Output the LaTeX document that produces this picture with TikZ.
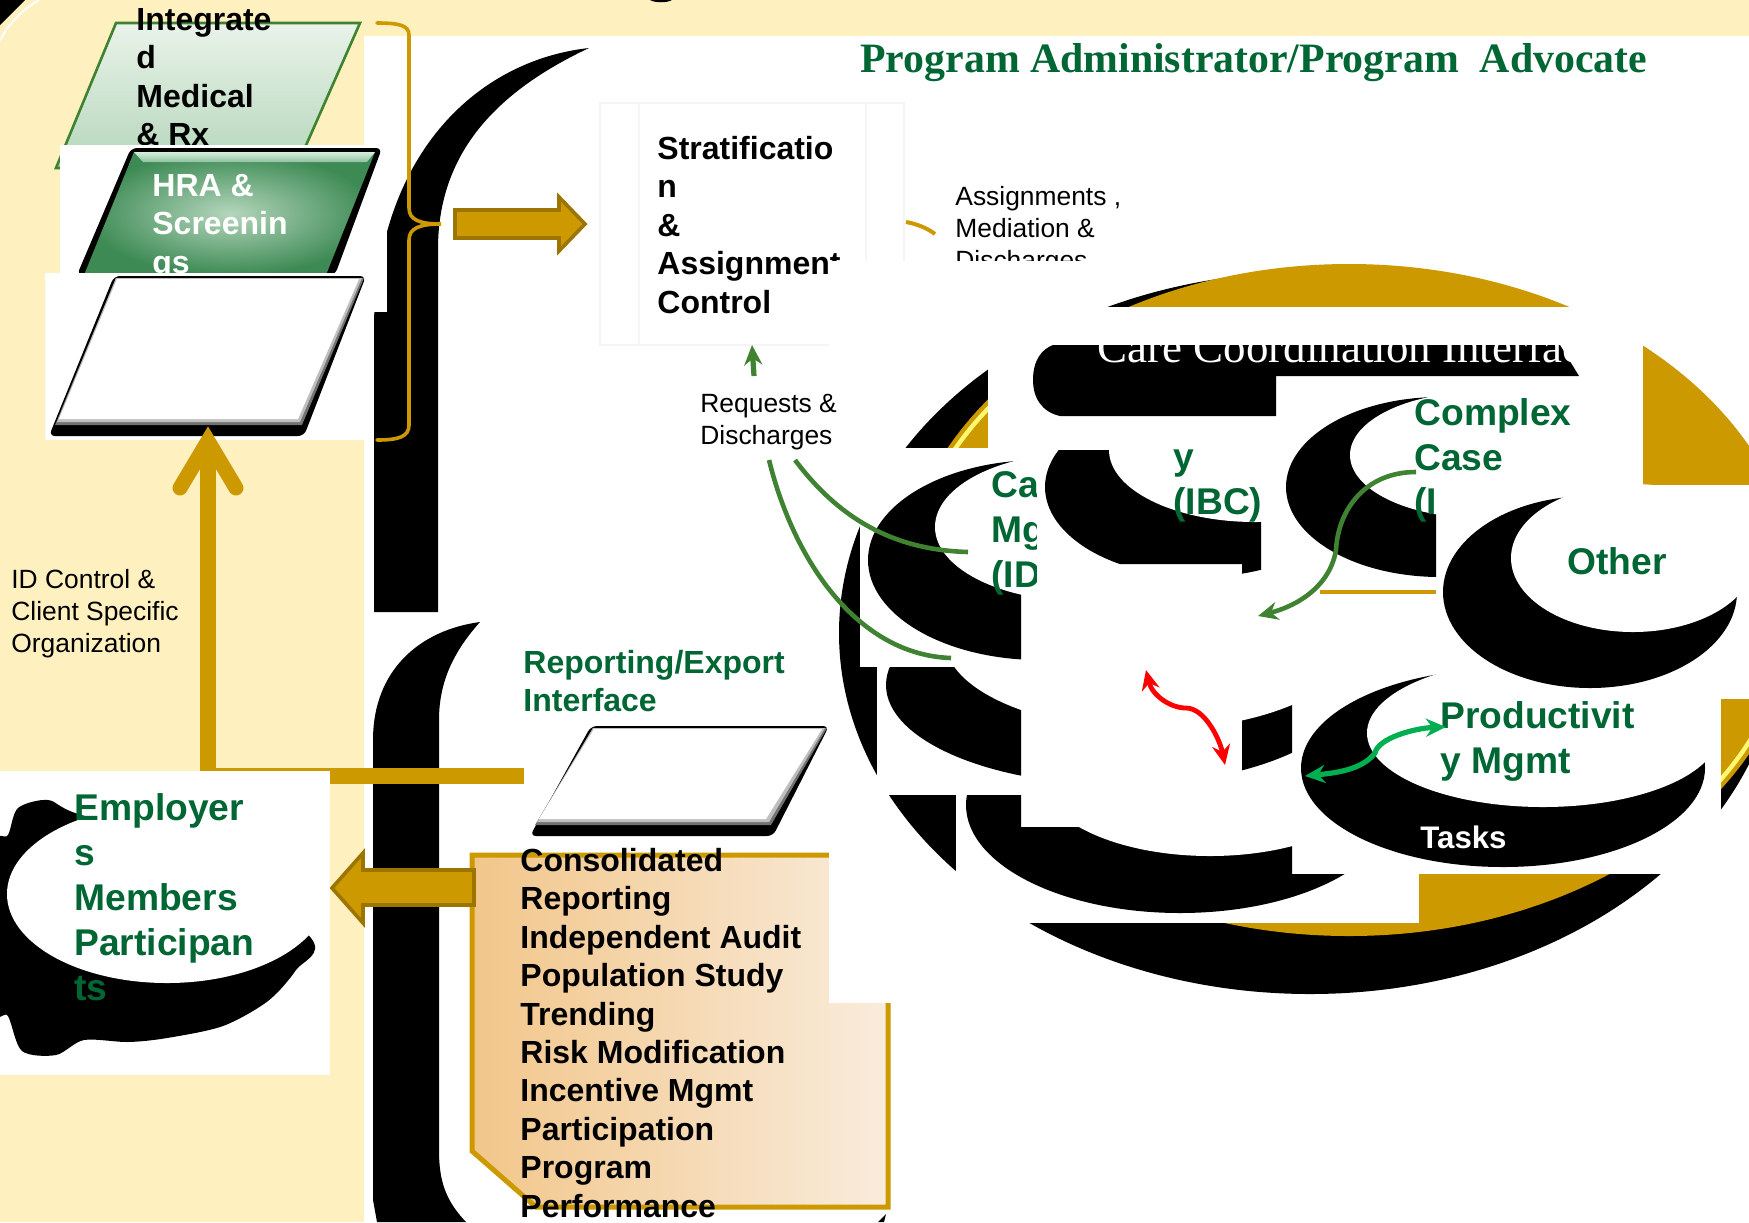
\documentclass[tikz,border=0pt]{standalone}
\usepackage{fontspec}
\setmainfont{Liberation Sans}
\newfontfamily\titlefont{Liberation Serif}
\usetikzlibrary{arrows.meta}
\definecolor{cream}{HTML}{FEF0BF}
\definecolor{gold}{HTML}{CC9900}
\definecolor{golddk}{HTML}{9C7400}
\definecolor{tgreen}{HTML}{006633}
\definecolor{lgreen}{HTML}{3F8232}
\definecolor{bgreen}{HTML}{00B050}
\newcommand{\myell}[4]{(#1,#2) ellipse [x radius=#3*0.5pt, y radius=#4*0.5pt]}
\tikzset{
  body/.style={anchor=base west,inner sep=0pt,align=left,font=\fontsize{16}{19.2}\selectfont\bfseries,text=black},
  green head/.style={anchor=base west,inner sep=0pt,align=left,font=\fontsize{18.6}{22.4}\selectfont\bfseries,text=tgreen},
  small text/.style={anchor=base west,inner sep=0pt,align=left,font=\fontsize{13.2}{15.8}\selectfont,text=black},
  serif head/.style={anchor=base west,inner sep=0pt,font=\fontsize{20.9}{25}\selectfont\titlefont\bfseries},
  gold arrow/.style={fill=gold,draw=golddk,line width=1.8pt,line join=miter},
  gold line/.style={draw=gold,line width=1.8pt,line cap=round},
  green link/.style={draw=lgreen,line width=2.3pt},
  bevel black/.style={fill=black,rounded corners=3pt},
  tip/.style={-{Stealth[length=10pt,width=9pt]}},
  twotip/.style={{Stealth[length=10pt,width=9pt]}-{Stealth[length=10pt,width=9pt]}},
}
\begin{document}
\begin{tikzpicture}[x=0.5pt,y=-0.5pt]
\useasboundingbox (0,0) rectangle (1749,1222);
\clip (0,0) rectangle (1749,1222);
% page
\fill[white] (0,0) rectangle (1749,1222);
\fill[cream] (0,0) rectangle (1749,36);
\fill[cream] (0,0) rectangle (364,1222);
\fill[black] (0,0) -- (25,0) -- (0,25) -- cycle;
\draw[white,line width=1pt] (39,0) .. controls (22,10) and (8,24) .. (0,41);
\fill[black] (650,0) .. controls (655,3) and (667,3) .. (672,0) -- cycle;
% black arches
\fill[black] (589,48) .. controls (480,60) and (380,150) .. (374,320) -- (374,612) -- (438,612) -- (438,249)
  .. controls (438,150) and (500,90) .. (589,48) -- cycle;
\fill[black] (480,622) .. controls (420,630) and (373,670) .. (373,740) -- (373,1200) -- (377,1222) -- (466,1222)
  .. controls (445,1200) and (439,1180) .. (439,1150) -- (439,720) .. controls (439,680) and (455,650) .. (480,622) -- cycle;
\fill[black] (878,1222) -- (886,1214) -- (884,1222) -- cycle;
% title
\node[serif head,text=tgreen] (title) at (860,72) {Program Administrator/Program\ \ Advocate};
% left stack
\definecolor{intop}{HTML}{EAF3EA}\definecolor{inbot}{HTML}{B4D6BA}
\shade[top color=intop,bottom color=inbot,draw=lgreen,line width=1.3pt]
  (116,23) -- (360,23) -- (296,168) -- (56,168) -- cycle;
\node[body] (integrated) at (136,145.5) {Integrate\\d\\Medical\\\& Rx};
\fill[white] (60,145) rectangle (387,312);
\fill[bevel black] (131,148) -- (382,148) -- (335,275) -- (77,275) -- cycle;
\definecolor{hrain}{HTML}{B4D6BC}\definecolor{hraout}{HTML}{3D8A54}
\shade[inner color=hrain,outer color=hraout]
  (134,152) -- (375,152) -- (326,275) -- (84,275) -- cycle;
\definecolor{hratop}{HTML}{D6F0DC}\definecolor{hrabot}{HTML}{8FC09F}
\shade[top color=hratop,bottom color=hrabot]
  (134,152) -- (375,152) -- (367,162) -- (143,162) -- cycle;
\node[body,text=white] (hra) at (152,273) {HRA \&\\Screenin\\gs};
\fill[white] (45,273) rectangle (373,440);
\fill[bevel black] (114,276) -- (366,276) -- (304,436) -- (49,436) -- cycle;
\fill[black!55] (116,278) -- (364,278) -- (302,425) -- (55,425) -- cycle;
\fill[black!25] (116,278) -- (362,278) -- (300,422) -- (57,422) -- cycle;
\fill[white] (117,279) -- (359,279) -- (298,419) -- (59,419) -- cycle;
% left arrow up and bar
\fill[gold] (216,768) rectangle (524,784);
\fill[gold] (200,445) rectangle (216,772);
\draw[draw=gold,line width=7.5pt,line cap=round,line join=miter] (180,488) -- (208,441) -- (236,488);
\node[small text] (idc) at (11,652) {ID Control \&\\Client Specific\\Organization};
% brace
\coordinate (brtop) at (377,23);
\coordinate (brbot) at (377,440);
\coordinate (brtip) at (441,224);
\draw[gold line] (brtop) .. controls (398,23) and (409,25) .. (409,35) -- (409,208)
  .. controls (409,220) and (420,224) .. (brtip) .. controls (420,224) and (409,228) .. (409,240) -- (409,425)
  .. controls (409,437) and (398,440) .. (brbot);
% gold arrow right
\path[gold arrow] (455,210) -- (559,210) -- (559,197) -- (585,224) -- (559,251) -- (559,238) -- (455,238) -- cycle;
% stratification box
\draw[draw=black!4,line width=.8pt] (600,103) rectangle (904,345) (639,103) -- (639,345) (866,103) -- (866,345);
\node[body] (strat) at (657,313) {Stratificatio\\n\\\&\\Assignment\\Control};
\node[small text] (assign) at (955,269) {Assignments ,\\Mediation \&\\Discharges};
\draw[draw=gold,line width=2pt] (906,222) .. controls (917,224) and (927,228) .. (935,234);
% reporting
\node[green head,font=\fontsize{16}{19.2}\selectfont\bfseries] (rep) at (523,711.5) {Reporting/Export\\Interface};
\fill[bevel black] (591,726) -- (829,726) -- (773,836) -- (530,836) -- cycle;
\fill[black!55] (593,728) -- (827,728) -- (771,825) -- (535,825) -- cycle;
\fill[black!25] (593,728) -- (825,728) -- (769,822) -- (537,822) -- cycle;
\fill[white] (594,729) -- (822,729) -- (766,819) -- (539,819) -- cycle;
\definecolor{repl}{HTML}{F2C68A}\definecolor{repr}{HTML}{F9ECDC}
\shade[left color=repl,right color=repr,draw=gold,line width=2.5pt]
  (472,855) -- (888,855) -- (888,1207) -- (536,1207) -- (472,1151) -- cycle;
\node[body] (conso) at (520,1217) {Consolidated\\Reporting\\Independent Audit\\Population Study\\Trending\\Risk Modification\\Incentive Mgmt\\Participation\\Program\\Performance};
% employers
\fill[white] (0,771) rectangle (330,1075);
\fill[black] plot[smooth cycle,tension=.5] coordinates {(48,800) (18,808) (8,835) (-6,850) (-6,1005) (8,1016) (22,1051) (56,1055) (84,1040) (128,1042) (167,1038) (223,1026) (268,1001) (296,970) (311,938) (200,850) (78,814)};
\fill[white] \myell{167}{894}{160}{89};
\node[green head] (emp) at (74,1000) {Employer\\s\\Members\\Participan\\ts};
\path[gold arrow] (474,870) -- (363,870) -- (363,853) -- (332,888) -- (363,923) -- (363,905) -- (474,905) -- cycle;
% main white panel over everything at right
\fill[white] (829,261) rectangle (1749,1003);
\node[small text] (req) at (700,444) {Requests \&\\Discharges};
\coordinate (rq0) at (754,376);
\coordinate (st0) at (752,345);
\draw[green link,line width=2.6pt,tip] (rq0) -- (st0);
\fill[black] \myell{1310}{633}{471}{361};
\fill[gold] \myell{1349}{600}{450}{336};
\begin{scope}
  \clip (900,380) rectangle (990,470) (1700,700) rectangle (1749,830);
  \draw[draw=white!45!yellow,line width=2.2pt] \myell{1349}{600}{443}{330};
\end{scope}
% white boxes
\fill[white] (988,307) rectangle (1643,485);
\fill[white] (860,448) rectangle (1040,667);
\fill[white] (988,416) rectangle (1436,795);
\fill[white] (877,667) rectangle (1292,795);
\fill[white] (956,795) rectangle (1419,923);
\fill[white] (1436,485) rectangle (1749,699);
\fill[white] (1292,699) rectangle (1721,874);
% header band
\fill[black] (1060,416) .. controls (1042,412) and (1033,398) .. (1033,380) .. controls (1033,360) and (1042,349) .. (1053,345)
  -- (1560,345) -- (1579,376) -- (1276,376) -- (1276,416) -- cycle;
\node[serif head,text=white,font=\fontsize{22.5}{27}\selectfont\titlefont] (care) at (1097,362) {Care Coordination Interface};
\fill[white] (988,307) rectangle (1643,344.5);
% Ca disc
\begin{scope}
  \clip (860,448) rectangle (1021,667);
  \fill[black] \myell{1040}{560}{172}{100};
\end{scope}
\begin{scope}
  \clip (860,448) rectangle (1022,667);
  \fill[white] \myell{1080}{527}{145}{74};
\end{scope}
\begin{scope}
  \clip (860,448) rectangle (1036,667);
  \node[green head] (ca) at (991,587) {Ca\\Mg\\(ID};
\end{scope}
% IBC disc
\begin{scope}
  \clip (1036,450) -- (1261,450) -- (1261,577) -- (1242,577) -- (1242,564) -- (1036,564) -- cycle;
  \fill[black] \myell{1200}{487}{155}{90};
\end{scope}
\begin{scope}
  \clip (1036,449) rectangle (1262,578);
  \fill[white] \myell{1255}{450}{146}{72};
\end{scope}
\node[green head] (ibc) at (1173,514) {y\\(IBC)};
% Complex disc
\begin{scope}
  \clip (1276,397) rectangle (1436,577);
  \fill[black] \myell{1440}{487}{154}{90};
\end{scope}
\begin{scope}
  \clip (1276,396) rectangle (1437,578);
  \fill[white] \myell{1480}{455}{130}{63};
\end{scope}
\begin{scope}
  \clip (1276,380) rectangle (1436,540);
  \node[green head] (cc1) at (1414,514) {(I};
\end{scope}
\node[green head] (cc) at (1414,470) {Complex\\Case};
\fill[gold] (1320,590) rectangle (1436,594);
% lower disc D
\begin{scope}
  \clip (877,667) rectangle (1021,795) (1242,667) rectangle (1292,795);
  \fill[black] \myell{1120}{685}{234}{100};
\end{scope}
\begin{scope}
  \clip (877,666) rectangle (1022,795) (1241,666) rectangle (1293,795);
  \fill[white] \myell{1150}{640}{205}{90};
\end{scope}
% lower disc F
\begin{scope}
  \clip (956,795) -- (1021,795) -- (1021,827) -- (1292,827) -- (1292,874) -- (1419,874) -- (1419,923) -- (956,923) -- cycle;
  \fill[black] \myell{1180}{805}{214}{108};
\end{scope}
\begin{scope}
  \clip (1021,826) rectangle (1293,923);
  \fill[white] \myell{1210}{776}{170}{80};
\end{scope}
% Productivity
\fill[black] \myell{1503}{768}{202}{99};
\fill[white] \myell{1543}{733}{176}{74};
\node[green head] (prod) at (1440,773) {Productivit\\y Mgmt};
\node[body,text=white,font=\fontsize{15.6}{18}\selectfont\bfseries] (tasks) at (1420,848) {Tasks};
% Other
\fill[black] \myell{1590}{592}{147}{96};
\fill[white] \myell{1633}{558}{122}{74};
\node[green head] (other) at (1567,574) {Other};
% connectors
\coordinate (g1a) at (769,460); \coordinate (g1b) at (951,658);
\coordinate (g2a) at (795,460); \coordinate (g2b) at (968,552);
\coordinate (g3a) at (1416,472); \coordinate (g3b) at (1258,616);
\draw[green link] (g1a) .. controls (795,565) and (860,655) .. (g1b);
\draw[green link] (g2a) .. controls (840,520) and (895,550) .. (g2b);
\draw[green link,tip] (g3a) .. controls (1365,472) and (1338,510) .. (1336,550) .. controls (1330,585) and (1300,605) .. (g3b);
\coordinate (r1) at (1146,670); \coordinate (r2) at (1225,765);
\draw[draw=red,line width=2.4pt,twotip]
  (r1) .. controls (1152,695) and (1170,708) .. (1186,708) .. controls (1205,708) and (1220,740) .. (r2);
\coordinate (t1) at (1446,727); \coordinate (t2) at (1305,776);
\draw[draw=bgreen,line width=2.6pt,twotip]
  (t1) .. controls (1415,728) and (1378,738) .. (1375,753) .. controls (1362,770) and (1335,773) .. (t2);
\end{tikzpicture}
\end{document}
